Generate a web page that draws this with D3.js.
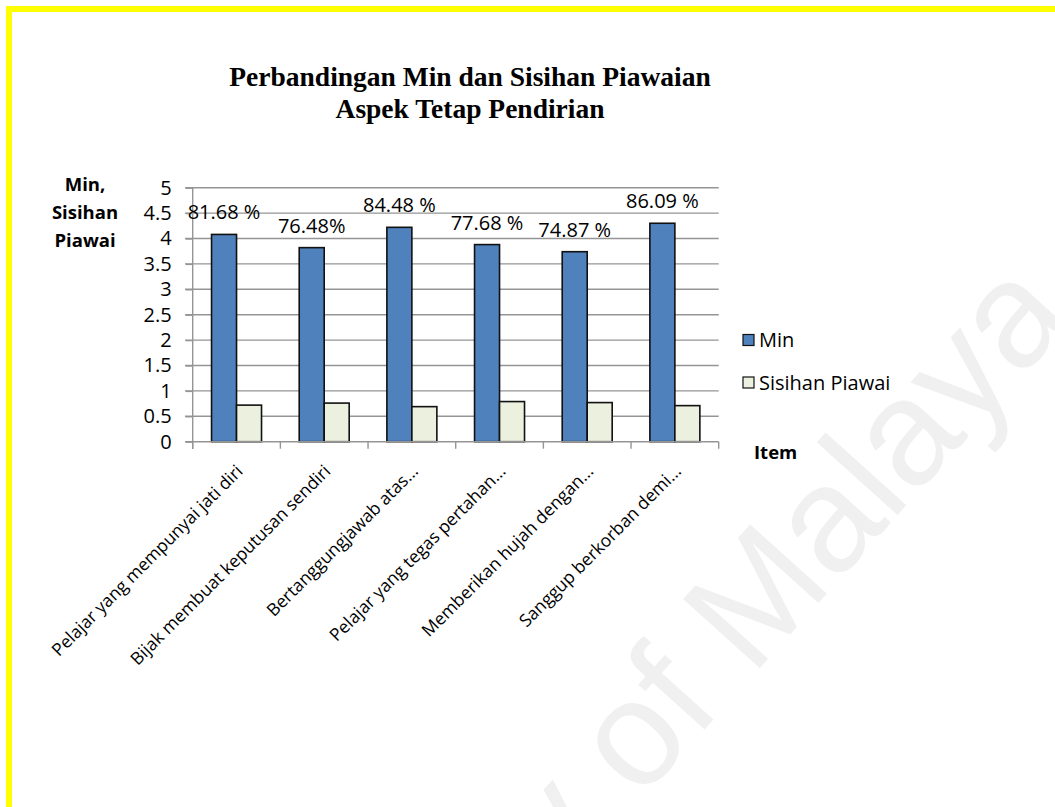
<!DOCTYPE html>
<html>
<head>
<meta charset="utf-8">
<script src="https://cdn.jsdelivr.net/npm/d3@7"></script>
<style>
  body { margin: 0; background: #fff; }
  text { font-family: "Open Sans", Lato, sans-serif; }
</style>
</head>
<body>
<div id="chart"></div>
<script>
const WIDTH = 1055;
const HEIGHT = 807;

// data
const items = [
  "Pelajar yang mempunyai jati diri",
  "Bijak membuat keputusan sendiri",
  "Bertanggungjawab atas...",
  "Pelajar yang tegas pertahan...",
  "Memberikan hujah dengan...",
  "Sanggup berkorban demi..."
];
const series = ["Min", "Sisihan Piawai"];
const minValues = [4.08, 3.82, 4.22, 3.88, 3.74, 4.30];
const sdValues = [0.72, 0.76, 0.69, 0.79, 0.77, 0.71];
const pctLabels = ["81.68 %", "76.48%", "84.48 %", "77.68 %", "74.87 %", "86.09 %"];
const yTicks = [0, 0.5, 1, 1.5, 2, 2.5, 3, 3.5, 4, 4.5, 5];
const colors = ["#4F81BD", "#EBF1DE"];

const svg = d3.select("#chart")
  .append("svg")
  .attr("width", WIDTH)
  .attr("height", HEIGHT);

// watermark
svg.append("text")
  .attr("transform", "translate(1075,318) rotate(-48)")
  .attr("text-anchor", "end")
  .style("font-family", "'Liberation Sans', Arial, sans-serif")
  .style("font-size", "150px")
  .attr("fill", "#f0f0f0")
  .text("University of Malaya");

// yellow frame (top + left only)
svg.append("path")
  .attr("d", "M9,807 V9 H1055")
  .attr("fill", "none")
  .attr("stroke", "#FFFF00")
  .attr("stroke-width", 6);

// title
const title = svg.append("text")
  .attr("text-anchor", "middle")
  .style("font-family", "'Liberation Serif', 'Times New Roman', serif")
  .style("font-weight", "bold")
  .style("font-size", "27.5px");
title.append("tspan").attr("x", 470).attr("y", 86).text("Perbandingan Min dan Sisihan Piawaian");
title.append("tspan").attr("x", 470).attr("y", 118).text("Aspek Tetap Pendirian");

// scales
const x0 = d3.scaleBand().domain(items).range([192.7, 718.7]);
const x1 = d3.scaleBand().domain(series).range([0, x0.bandwidth()]).paddingOuter(0.754);
const y = d3.scaleLinear().domain([0, 5]).range([441.7, 187.7]);

// gridlines
svg.append("g")
  .selectAll("line")
  .data(yTicks.filter(d => d > 0))
  .join("line")
  .attr("x1", 185)
  .attr("x2", 718.7)
  .attr("y1", d => y(d))
  .attr("y2", d => y(d))
  .attr("stroke", "#959595")
  .attr("stroke-width", 1.4);

// y axis
const yAxis = svg.append("g")
  .attr("transform", "translate(192.7,0)")
  .call(d3.axisLeft(y).tickValues(yTicks).tickSize(7).tickPadding(14).tickFormat(d3.format("")));
yAxis.select(".domain").attr("stroke", "#959595").attr("stroke-width", 1.4).attr("d", "M0,187.7V449");
yAxis.selectAll(".tick line").attr("stroke", "#959595").attr("stroke-width", 1.4);
yAxis.selectAll(".tick text")
  .attr("fill", "#000")
  .style("font-family", "'Open Sans', sans-serif")
  .style("font-size", "20px");

// bars
const groups = svg.append("g")
  .selectAll("g")
  .data(items)
  .join("g")
  .attr("transform", d => `translate(${x0(d)},0)`);

groups.selectAll("rect")
  .data((d, i) => [
    { s: series[0], v: minValues[i] },
    { s: series[1], v: sdValues[i] }
  ])
  .join("rect")
  .attr("x", d => x1(d.s))
  .attr("width", x1.bandwidth())
  .attr("y", d => y(d.v))
  .attr("height", d => y(0) - y(d.v))
  .attr("fill", (d, j) => colors[j])
  .attr("stroke", "#111")
  .attr("stroke-width", 1.6);

// x axis
const xAxis = svg.append("g")
  .attr("transform", `translate(0,${y(0)})`);
xAxis.append("line")
  .attr("x1", 185).attr("x2", 718.7)
  .attr("stroke", "#959595").attr("stroke-width", 1.6);
xAxis.selectAll(".xt")
  .data(items.map(d => x0(d)).concat([x0.range()[1]]))
  .join("line")
  .attr("class", "xt")
  .attr("x1", d => d).attr("x2", d => d)
  .attr("y1", 0).attr("y2", 7)
  .attr("stroke", "#959595").attr("stroke-width", 1.4);

// category labels
svg.append("g")
  .selectAll("text")
  .data(items)
  .join("text")
  .attr("transform", d => `translate(${x0(d) + x0.bandwidth() / 2 + 3},468) rotate(-45)`)
  .attr("text-anchor", "end")
  .attr("dy", "0.35em")
  .style("font-size", "17.5px")
  .text(d => d);

// percentage labels
svg.append("g")
  .selectAll("text")
  .data(items)
  .join("text")
  .attr("x", d => x0(d) + x1(series[0]) + x1.bandwidth() / 2)
  .attr("y", (d, i) => y(minValues[i]) - 22)
  .attr("dy", "0.35em")
  .attr("text-anchor", "middle")
  .style("font-size", "20px")
  .text((d, i) => pctLabels[i]);

// y axis title
const yt = svg.append("text")
  .attr("text-anchor", "middle")
  .style("font-weight", "bold")
  .style("font-size", "18.5px");
["Min,", "Sisihan", "Piawai"].forEach((t, i) => {
  yt.append("tspan").attr("x", 85).attr("y", 185 + i * 28).attr("dy", "0.35em").text(t);
});

// legend
const legend = svg.append("g")
  .selectAll("g")
  .data(series)
  .join("g")
  .attr("transform", (d, i) => `translate(743,${334.5 + i * 42.5})`);
legend.append("rect")
  .attr("width", 11).attr("height", 11)
  .attr("fill", (d, i) => colors[i])
  .attr("stroke", "#111").attr("stroke-width", 1.2);
legend.append("text")
  .attr("x", 16).attr("y", 5.5).attr("dy", "0.35em")
  .style("font-size", "20px")
  .text(d => d);

// x axis title
svg.append("text")
  .attr("x", 754).attr("y", 453).attr("dy", "0.35em")
  .style("font-weight", "bold")
  .style("font-size", "18.5px")
  .text("Item");
</script>
</body>
</html>
